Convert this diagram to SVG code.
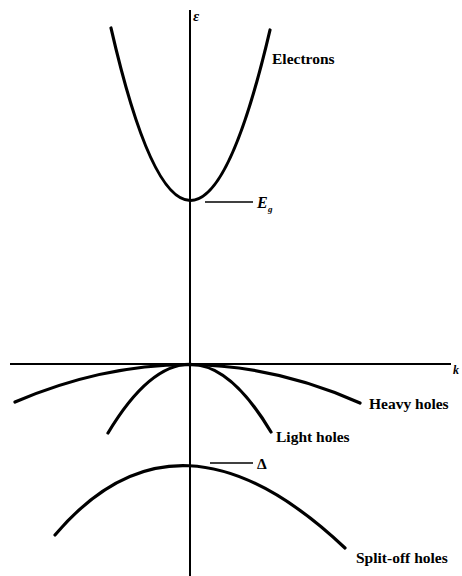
<svg xmlns="http://www.w3.org/2000/svg" width="462" height="576" viewBox="0 0 462 576">
<style>
.axis{stroke:#000;stroke-width:2;fill:none}
.band{stroke:#000;stroke-width:3.2;fill:none;stroke-linecap:round}
.tick{stroke:#000;stroke-width:1.6;fill:none}
.lbl{font-family:"Liberation Serif","DejaVu Serif",serif;font-weight:bold;font-size:15.5px;fill:#000}
.sym{font-family:"Liberation Serif","DejaVu Serif",serif;font-style:italic;font-weight:bold;fill:#000}
</style>
<rect width="462" height="576" fill="#fff"/>
<g id="axes">
<line class="axis" x1="190" y1="10" x2="190" y2="576"/>
<line class="axis" x1="10" y1="364" x2="451" y2="364"/>
<text class="sym" x="193" y="21" font-size="15">ε</text>
<text class="sym" x="453" y="374" font-size="12">k</text>
</g>
<g id="electrons">
<path class="band" d="M111,28 Q190,372 270,30"/>
<text class="lbl" x="272" y="64">Electrons</text>
</g>
<g id="heavy-holes">
<path class="band" d="M15,402 Q190,327 360,403"/>
<text class="lbl" x="369" y="409">Heavy holes</text>
</g>
<g id="light-holes">
<path class="band" d="M108,433 Q190,296 271,432"/>
<text class="lbl" x="276" y="442">Light holes</text>
</g>
<g id="split-off-holes">
<path class="band" d="M55,535 Q178,390 345,548"/>
<text class="lbl" x="356" y="563">Split-off holes</text>
</g>
<g id="connectors">
<line class="tick" x1="205" y1="202" x2="253" y2="202"/>
<line class="tick" x1="210" y1="463" x2="253" y2="463"/>
</g>
<g id="labels">
<text class="sym" x="257" y="208" font-size="16">E</text>
<text class="sym" x="268" y="212" font-size="9">g</text>
<text class="lbl" x="257" y="469">Δ</text>
</g>
</svg>
